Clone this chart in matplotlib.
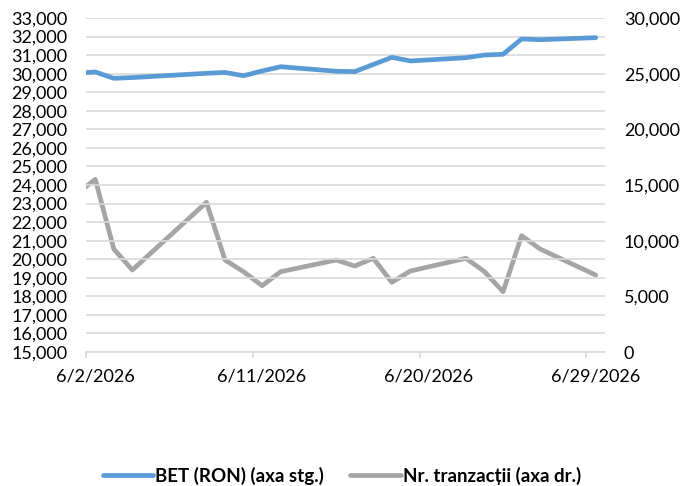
import pandas as pd
import matplotlib.pyplot as plt
import matplotlib.dates as mdates
import matplotlib.transforms as mtransforms
from matplotlib.ticker import FuncFormatter, MultipleLocator

plt.rcParams['font.family'] = ['Lato', 'DejaVu Sans']

# zile de tranzactionare (6/1 iese din grafic, linia e taiata la margine)
zile = ['2026-06-01', '2026-06-02', '2026-06-03', '2026-06-04', '2026-06-08',
        '2026-06-09', '2026-06-10', '2026-06-11', '2026-06-12', '2026-06-15',
        '2026-06-16', '2026-06-17', '2026-06-18', '2026-06-19', '2026-06-22',
        '2026-06-23', '2026-06-24', '2026-06-25', '2026-06-26', '2026-06-29']

bet = [30025, 30090, 29750, 29790, 30020, 30065, 29890, 30145, 30375, 30130,
       30110, 30495, 30880, 30685, 30860, 31005, 31045, 31870, 31830, 31940]

tranzactii = [14200, 15510, 9250, 7365, 13445, 8265, 7210, 5955, 7210, 8265,
              7725, 8415, 6260, 7275, 8415, 7210, 5415, 10445, 9250, 6915]

etichete_x = ['2026-06-02', '2026-06-11', '2026-06-20', '2026-06-29']

albastru = '#5B9BD5'
gri = '#A5A5A5'
grila = '#D9D9D9'

# punctele stau la mijlocul zilei (ca in Excel)
x = pd.to_datetime(zile) + pd.Timedelta(hours=12)

fig = plt.figure(figsize=(6.84, 4.86), dpi=100)
ax = fig.add_axes([86 / 684, 1 - 352 / 486, (605 - 86) / 684, (352 - 18) / 486])
ax2 = ax.twinx()

ax.set_zorder(ax2.get_zorder() + 1)
ax.patch.set_visible(False)

l1, = ax.plot(x, bet, color=albastru, lw=3.4, solid_capstyle='round',
              solid_joinstyle='round', label='BET (RON) (axa stg.)')
l2, = ax2.plot(x, tranzactii, color=gri, lw=3.4, solid_capstyle='round',
               solid_joinstyle='round', label='Nr. tranzacții (axa dr.)')

ax.set_xlim(pd.Timestamp('2026-06-02'), pd.Timestamp('2026-06-30'))
ax.set_ylim(15000, 33000)
ax2.set_ylim(0, 30000)

ax.yaxis.set_major_locator(MultipleLocator(1000))
ax2.yaxis.set_major_locator(MultipleLocator(5000))
fmt = FuncFormatter(lambda v, p: f'{v:,.0f}')
ax.yaxis.set_major_formatter(fmt)
ax2.yaxis.set_major_formatter(fmt)

ax.set_xticks(pd.to_datetime(etichete_x))
ax.xaxis.set_major_formatter(FuncFormatter(
    lambda v, p: '{d.month}/{d.day}/{d.year}'.format(d=mdates.num2date(v))))

ax.grid(axis='y', color=grila, lw=1.2)
ax.set_axisbelow(True)
for a in (ax, ax2):
    for s in a.spines.values():
        s.set_visible(False)
ax.spines['bottom'].set_visible(True)
ax.spines['bottom'].set_color(grila)
ax.spines['bottom'].set_linewidth(1.2)

ax.tick_params(axis='y', length=0, pad=13.5, labelsize=13, labelcolor='#000000')
ax2.tick_params(axis='y', length=0, pad=13.5, labelsize=13, labelcolor='#000000')
ax.tick_params(axis='x', length=4, width=1.2, color=grila, pad=8,
               labelsize=13, labelcolor='#000000')

# etichetele de data sunt centrate pe mijlocul zilei
deplasare = mtransforms.ScaledTranslation(9 / 100, 0, fig.dpi_scale_trans)
for lbl in ax.get_xticklabels():
    lbl.set_transform(lbl.get_transform() + deplasare)

fig.legend(handles=[l1, l2], loc='center', bbox_to_anchor=(0.5, 1 - 476 / 486),
           ncol=2, frameon=False, handlelength=2.7, handletextpad=0.1,
           columnspacing=1.4, prop={'weight': 'bold', 'size': 13.5})

fig.savefig('out.png', dpi=100)
